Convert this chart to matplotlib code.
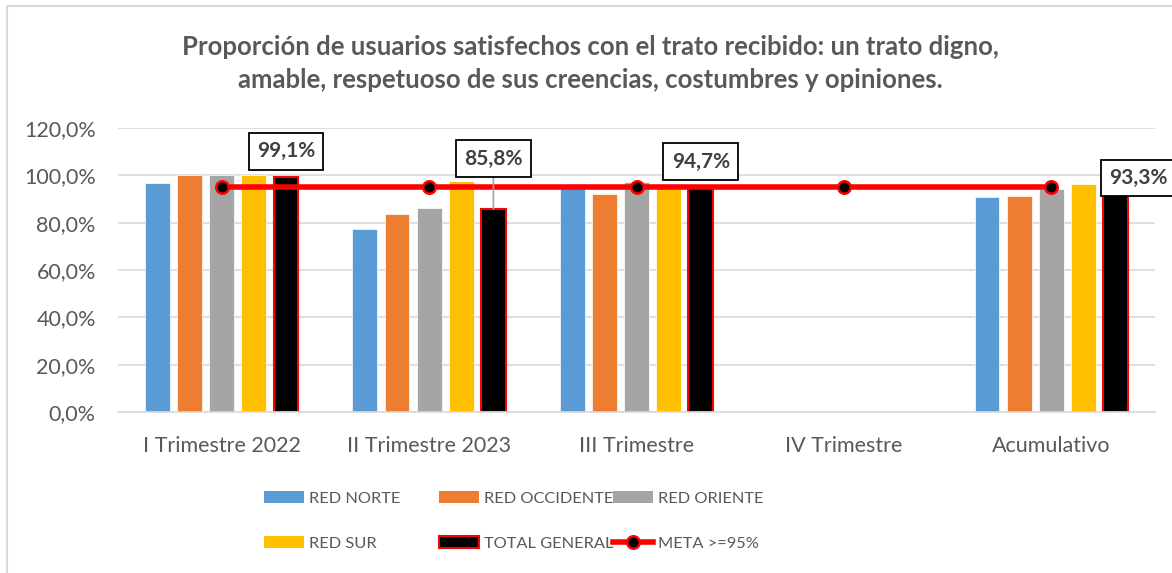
import matplotlib
matplotlib.use("Agg")
import matplotlib.pyplot as plt
import numpy as np
from matplotlib.patches import Patch, Rectangle
from matplotlib.lines import Line2D

plt.rcParams['font.family'] = ['Lato', 'DejaVu Sans']

categories = ["I Trimestre 2022", "II Trimestre 2023", "III Trimestre", "IV Trimestre", "Acumulativo"]
red_norte = [0.966, 0.773, 0.950, np.nan, 0.907]
red_occidente = [1.000, 0.835, 0.920, np.nan, 0.914]
red_oriente = [1.000, 0.863, 0.970, np.nan, 0.942]
red_sur = [1.000, 0.975, 0.955, np.nan, 0.965]
total_general = [0.991, 0.858, 0.947, np.nan, 0.933]
meta = [0.95, 0.95, 0.95, 0.95, 0.95]
total_labels = ["99,1%", "85,8%", "94,7%", None, "93,3%"]
yticks = [0.0, 0.2, 0.4, 0.6, 0.8, 1.0, 1.2]
ytick_labels = ["0,0%", "20,0%", "40,0%", "60,0%", "80,0%", "100,0%", "120,0%"]

series_names = ["RED NORTE", "RED OCCIDENTE", "RED ORIENTE", "RED SUR", "TOTAL GENERAL"]
series_vals = [red_norte, red_occidente, red_oriente, red_sur, total_general]
colors = ["#5B9BD5", "#ED7D31", "#A5A5A5", "#FFC000", "#000000"]

# layout for data labels (x offset in category units, y in data units)
label_dx = [0.0, 0.0, 0.0, 0.0, 0.11]
label_y = [1.101, 1.070, 1.058, None, 0.989]

TXT = "#595959"

fig = plt.figure(figsize=(11.72, 5.73), dpi=100)
ax = fig.add_axes([118/1172, 1-412/573, (1155-118)/1172, (412-128)/573])

x = np.arange(len(categories))
step = 0.155
width = 0.12
for i, (name, vals, col) in enumerate(zip(series_names, series_vals, colors)):
    off = (i - 2) * step
    if name == "TOTAL GENERAL":
        ax.bar(x + off, vals, width, color=col, edgecolor="#FF0000", linewidth=1.5, zorder=2)
    else:
        ax.bar(x + off, vals, width, color=col, edgecolor="white", linewidth=0.5, zorder=2)

ax.plot(x, meta, color="#FF0000", linewidth=4, marker="o", markersize=9,
        markerfacecolor="black", markeredgecolor="#FF0000", markeredgewidth=1.8, zorder=4)

# data labels for TOTAL GENERAL
for i, lab in enumerate(total_labels):
    if lab is None:
        continue
    bx = x[i] + 2 * step + label_dx[i]
    ax.annotate(lab, xy=(x[i] + 2 * step, total_general[i]), xytext=(bx, label_y[i]),
                textcoords="data", ha="center", va="center", fontsize=15, fontweight="bold",
                color="#404040", zorder=6, annotation_clip=False,
                bbox=dict(boxstyle="square,pad=0.4", facecolor="white", edgecolor="black", linewidth=1.3),
                arrowprops=(dict(arrowstyle="-", color="#A5A5A5", lw=1.2, shrinkA=0, shrinkB=0)
                            if (label_y[i] - total_general[i]) > 0.2 else None))

ax.set_xlim(-0.5, 4.5)
ax.set_ylim(0, 1.2)
ax.set_yticks(yticks)
ax.set_yticklabels(ytick_labels)
ax.set_xticks(x)
ax.set_xticklabels(categories)
ax.tick_params(axis="both", length=0, labelsize=15.5, colors=TXT)
ax.tick_params(axis="y", pad=16)
ax.tick_params(axis="x", pad=17)
ax.yaxis.grid(True, color="#D9D9D9", linewidth=1.2, zorder=0)
ax.set_axisbelow(True)
for s in ["top", "right", "left"]:
    ax.spines[s].set_visible(False)
ax.spines["bottom"].set_color("#D9D9D9")
ax.spines["bottom"].set_linewidth(1.2)

fig.text(590/1172, 1-63.5/573,
         "Proporción de usuarios satisfechos con el trato recibido: un trato digno,\n"
         "amable, respetuoso de sus creencias, costumbres y opiniones.",
         ha="center", va="center", fontsize=18.5, fontweight="bold", color=TXT, linespacing=1.45)

# figure border
fig.patches.append(Rectangle((7/1172, -0.01), 1.1, 1 - 6/573 + 0.01, transform=fig.transFigure,
                             fill=False, edgecolor="#D9D9D9", linewidth=1.5))

# legends: three columns
h = [Patch(facecolor=colors[0], edgecolor="none"),
     Patch(facecolor=colors[1], edgecolor="none"),
     Patch(facecolor=colors[2], edgecolor="none"),
     Patch(facecolor=colors[3], edgecolor="none"),
     Patch(facecolor="black", edgecolor="#FF0000", linewidth=1.5),
     Line2D([], [], color="#FF0000", linewidth=4, marker="o", markersize=9,
            markerfacecolor="black", markeredgecolor="#FF0000", markeredgewidth=1.8)]
labels = series_names[:4] + ["TOTAL GENERAL", "META >=95%"]
cols = [(0, 3), (1, 4), (2, 5)]
xs = [264, 438.7, 613]
for (a, b), xp in zip(cols, xs):
    leg = fig.legend([h[a], h[b]], [labels[a], labels[b]], loc="upper left",
                     bbox_to_anchor=(xp/1172, 1-491/573), frameon=False, fontsize=11.8,
                     handlelength=2.45, handleheight=0.75, handletextpad=0.3,
                     labelspacing=1.85, borderpad=0, borderaxespad=0)
    for t in leg.get_texts():
        t.set_color(TXT)

fig.savefig("out.png", dpi=100)
